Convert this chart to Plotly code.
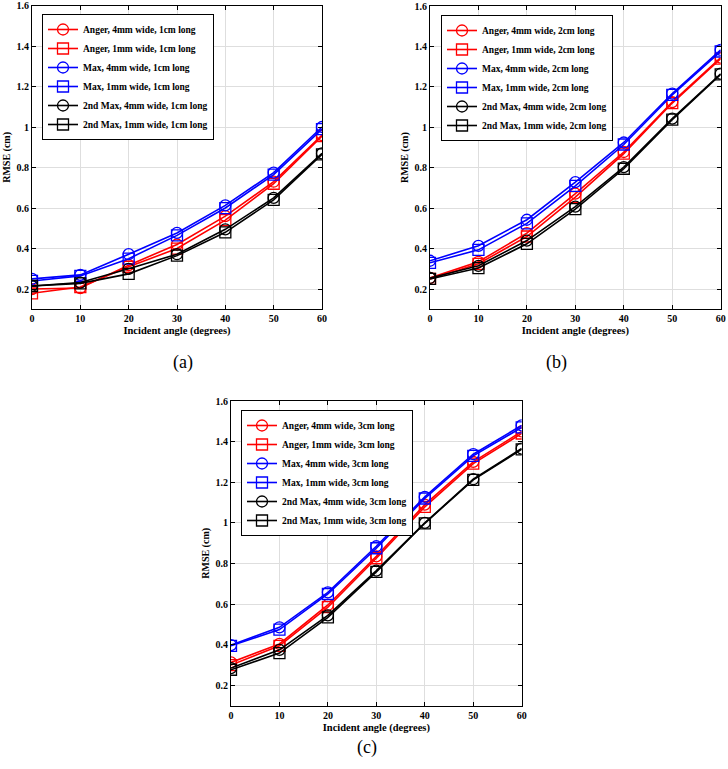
import plotly.graph_objects as go

angles = [0, 10, 20, 30, 40, 50, 60]

# Panel (a): 1cm long
a_anger_4mm = [0.20, 0.205, 0.318, 0.42, 0.56, 0.73, 0.96]
a_anger_1mm = [0.179, 0.21, 0.31, 0.40, 0.54, 0.72, 0.955]
a_max_4mm = [0.25, 0.27, 0.372, 0.477, 0.613, 0.775, 1.0]
a_max_1mm = [0.24, 0.265, 0.35, 0.465, 0.60, 0.765, 0.99]
a_2nd_4mm = [0.215, 0.232, 0.30, 0.372, 0.495, 0.65, 0.87]
a_2nd_1mm = [0.215, 0.228, 0.275, 0.365, 0.48, 0.64, 0.865]

# Panel (b): 2cm long
b_anger_4mm = [0.255, 0.335, 0.477, 0.672, 0.878, 1.125, 1.345]
b_anger_1mm = [0.25, 0.325, 0.46, 0.655, 0.87, 1.12, 1.34]
b_max_4mm = [0.34, 0.414, 0.543, 0.729, 0.925, 1.167, 1.383]
b_max_1mm = [0.33, 0.394, 0.525, 0.71, 0.915, 1.16, 1.375]
b_2nd_4mm = [0.255, 0.315, 0.44, 0.608, 0.803, 1.043, 1.265]
b_2nd_1mm = [0.25, 0.304, 0.424, 0.595, 0.795, 1.038, 1.262]

# Panel (c): 3cm long
c_anger_4mm = [0.313, 0.404, 0.596, 0.835, 1.09, 1.30, 1.45]
c_anger_1mm = [0.30, 0.395, 0.585, 0.826, 1.079, 1.292, 1.44]
c_max_4mm = [0.398, 0.486, 0.658, 0.885, 1.128, 1.338, 1.48]
c_max_1mm = [0.395, 0.475, 0.65, 0.875, 1.12, 1.33, 1.47]
c_2nd_4mm = [0.285, 0.375, 0.545, 0.765, 1.0, 1.215, 1.366]
c_2nd_1mm = [0.277, 0.359, 0.535, 0.759, 0.998, 1.212, 1.362]

series_names = ["Anger, 4mm wide, {} long", "Anger, 1mm wide, {} long",
                "Max, 4mm wide, {} long", "Max, 1mm wide, {} long",
                "2nd Max, 4mm wide, {} long", "2nd Max, 1mm wide, {} long"]
series_colors = ["#FF0000", "#FF0000", "#0000FF", "#0000FF", "#000000", "#000000"]
series_symbols = ["circle-open", "square-open"] * 3

panels = [
    ("1cm", [a_anger_4mm, a_anger_1mm, a_max_4mm, a_max_1mm, a_2nd_4mm, a_2nd_1mm]),
    ("2cm", [b_anger_4mm, b_anger_1mm, b_max_4mm, b_max_1mm, b_2nd_4mm, b_2nd_1mm]),
    ("3cm", [c_anger_4mm, c_anger_1mm, c_max_4mm, c_max_1mm, c_2nd_4mm, c_2nd_1mm]),
]
panel_labels = ["(a)", "(b)", "(c)"]

W, H = 728, 769
# pixel boxes (left, right, top, bottom)
boxes = [(32, 322, 5.5, 309.3), (430, 720.7, 6, 309.3), (231, 521.7, 401, 705.7)]
legend_pos = [(42, 14), (441, 15), (241, 410)]
label_pos = [(171, 362), (569, 362), (367, 760)]

FONT = "Liberation Serif"
fig = go.Figure()
for p, (length, data) in enumerate(panels):
    sfx = "" if p == 0 else str(p + 1)
    for i, vals in enumerate(data):
        fig.add_trace(go.Scatter(
            x=angles, y=vals, mode="lines+markers",
            name=series_names[i].format(length),
            line=dict(color=series_colors[i], width=1.6),
            marker=dict(symbol=series_symbols[i], size=11, color=series_colors[i],
                        line=dict(width=1.3, color=series_colors[i])),
            xaxis="x" + sfx, yaxis="y" + sfx,
            legend="legend" + sfx,
        ))
    l, r, t, b = boxes[p]
    axis_common = dict(
        showline=True, linecolor="black", linewidth=1, mirror="ticks",
        ticks="inside", ticklen=4, tickcolor="black", automargin=False,
        showgrid=True, gridcolor="#dedede", gridwidth=1, zeroline=False,
        tickfont=dict(family=FONT, size=10, color="black", weight="bold"),
    )
    fig.layout["xaxis" + sfx] = dict(
        axis_common, domain=[l / W, r / W], range=[0, 60], dtick=10, tick0=0,
        anchor="y" + sfx,
        title=dict(text="Incident angle (degrees)", standoff=3,
                   font=dict(family=FONT, size=10.5, color="black", weight="bold")),
    )
    fig.layout["yaxis" + sfx] = dict(
        axis_common, domain=[1 - b / H, 1 - t / H], range=[0.1, 1.6], dtick=0.2, tick0=0,
        anchor="x" + sfx,
        title=dict(text="RMSE (cm)", standoff=3,
                   font=dict(family=FONT, size=10, color="black", weight="bold")),
    )
    lx, ly = legend_pos[p]
    fig.layout["legend" + sfx] = dict(
        x=lx / W, y=1 - ly / H, xanchor="left", yanchor="top",
        bgcolor="white", bordercolor="black", borderwidth=1,
        font=dict(family=FONT, size=9.5, color="black", weight="bold"),
        itemwidth=30, tracegroupgap=0,
    )
    px, py = label_pos[p]
    fig.add_annotation(text=panel_labels[p], x=px / W, y=1 - py / H,
                       xref="paper", yref="paper", showarrow=False,
                       font=dict(family=FONT, size=18, color="black"))

fig.update_layout(width=W, height=H, margin=dict(l=0, r=0, t=0, b=0),
                  plot_bgcolor="white", paper_bgcolor="white", showlegend=True)
fig.write_html("out.html", config={"displayModeBar": False},
               post_script="document.body.style.margin='0';")
